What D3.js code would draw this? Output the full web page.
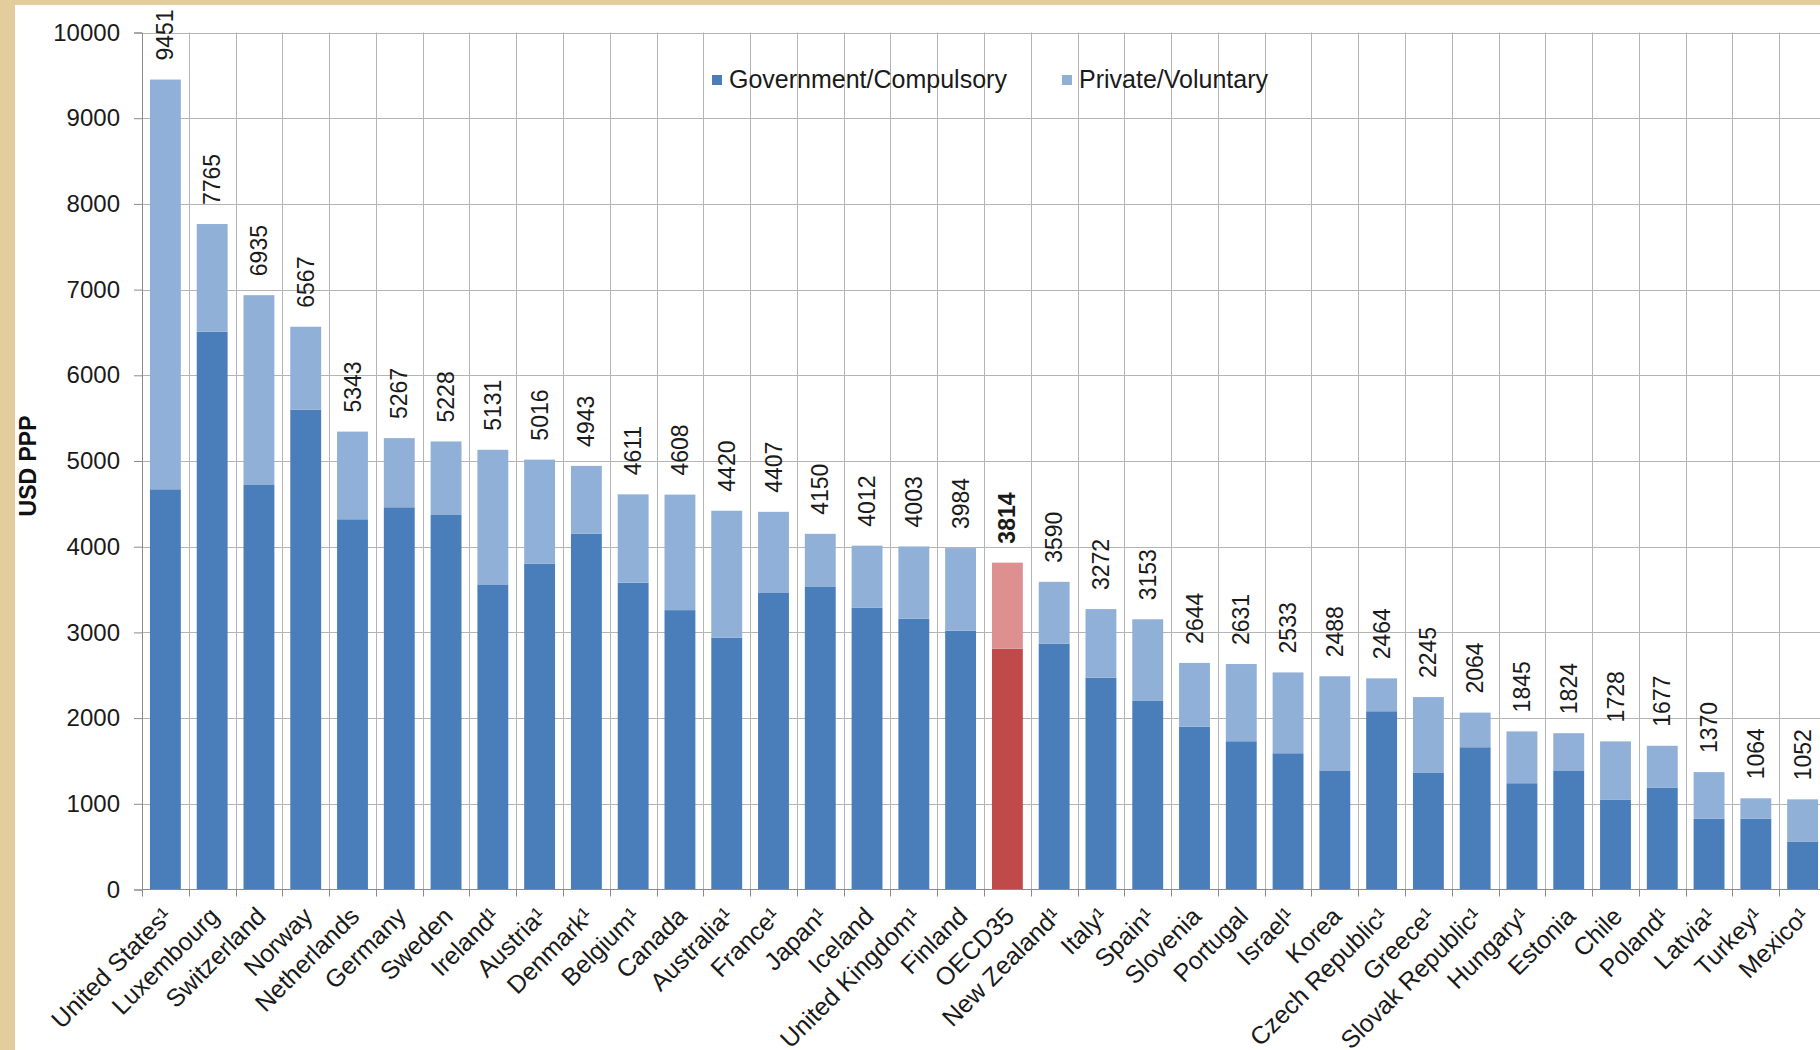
<!DOCTYPE html>
<html lang="en">
  <head>
    <meta charset="UTF-8" />
    <title>Health expenditure per capita</title>
    <script src="https://d3js.org/d3.v7.min.js"></script>
    <style>
      body {
        margin: 0;
        background-color: #e4cd9c;
        font-family: "Liberation Sans", Arial, sans-serif;
      }
      svg {
        display: block;
      }
      .tick text {
        font-size: 24px;
        fill: #1a1a1a;
      }
      .value {
        font-size: 23px;
        fill: #1a1a1a;
      }
      .cat {
        font-size: 25px;
        fill: #1a1a1a;
      }
      .legend text {
        font-size: 25px;
        fill: #1a1a1a;
      }
    </style>
  </head>
  <body>
    <svg id="chart" width="1820" height="1050"></svg>

    <script>
      const countries = [
        "United States¹", "Luxembourg", "Switzerland", "Norway", "Netherlands",
        "Germany", "Sweden", "Ireland¹", "Austria¹", "Denmark¹", "Belgium¹",
        "Canada", "Australia¹", "France¹", "Japan¹", "Iceland", "United Kingdom¹",
        "Finland", "OECD35", "New Zealand¹", "Italy¹", "Spain¹", "Slovenia",
        "Portugal", "Israel¹", "Korea", "Czech Republic¹", "Greece¹",
        "Slovak Republic¹", "Hungary¹", "Estonia", "Chile", "Poland¹", "Latvia¹",
        "Turkey¹", "Mexico¹"
      ];
      const totals = [
        9451, 7765, 6935, 6567, 5343, 5267, 5228, 5131, 5016, 4943, 4611, 4608,
        4420, 4407, 4150, 4012, 4003, 3984, 3814, 3590, 3272, 3153, 2644, 2631,
        2533, 2488, 2464, 2245, 2064, 1845, 1824, 1728, 1677, 1370, 1064, 1052
      ];
      const government = [
        4670, 6510, 4720, 5600, 4320, 4460, 4370, 3560, 3800, 4150, 3580, 3260,
        2940, 3460, 3530, 3290, 3160, 3020, 2810, 2870, 2470, 2200, 1900, 1730,
        1590, 1390, 2080, 1360, 1660, 1240, 1390, 1050, 1190, 825, 825, 555
      ];
      const privateVol = [
        4781, 1255, 2215, 967, 1023, 807, 858, 1571, 1216, 793, 1031, 1348,
        1480, 947, 620, 722, 843, 964, 1004, 720, 802, 953, 744, 901,
        943, 1098, 384, 885, 404, 605, 434, 678, 487, 545, 239, 497
      ];
      const yTicks = [0, 1000, 2000, 3000, 4000, 5000, 6000, 7000, 8000, 9000, 10000];
      const highlight = "OECD35";

      const colors = {
        government: "#4a7ebb",
        private: "#91b0d7",
        govHi: "#c0494a",
        privHi: "#de9090",
      };

      const rows = countries.map((c, i) => ({
        country: c,
        government: government[i],
        private: privateVol[i],
        total: totals[i],
      }));

      const svg = d3.select("#chart");

      // white chart area over the parchment background
      svg.append("rect")
        .attr("x", 15).attr("y", 5)
        .attr("width", 1805).attr("height", 1045)
        .attr("fill", "#ffffff");

      const x = d3.scaleBand()
        .domain(countries)
        .range([142, 1826])
        .paddingInner(0.34)
        .paddingOuter(0.17);

      const y = d3.scaleLinear().domain([0, 10000]).range([889.5, 32.5]);

      const step = x.step();
      const left = x.range()[0];

      // grid
      const grid = svg.append("g");
      grid.selectAll(".hg")
        .data(yTicks.slice(1))
        .enter().append("line")
        .attr("x1", left).attr("x2", 1820)
        .attr("y1", (d) => Math.round(y(d)) + 0.5)
        .attr("y2", (d) => Math.round(y(d)) + 0.5)
        .attr("stroke", "#b4b4b4");
      grid.selectAll(".vg")
        .data(d3.range(1, countries.length + 1))
        .enter().append("line")
        .attr("x1", (i) => Math.round(left + i * step) + 0.5)
        .attr("x2", (i) => Math.round(left + i * step) + 0.5)
        .attr("y1", y(10000)).attr("y2", y(0))
        .attr("stroke", "#b4b4b4");

      // stacked bars
      const stack = d3.stack().keys(["government", "private"]);
      const series = stack(rows);

      svg.append("g")
        .selectAll("g")
        .data(series)
        .enter().append("g")
        .each(function (s) {
          d3.select(this)
            .selectAll("rect")
            .data(s)
            .enter().append("rect")
            .attr("x", (d) => x(d.data.country))
            .attr("width", x.bandwidth())
            .attr("y", (d) => y(d[1]))
            .attr("height", (d) => y(d[0]) - y(d[1]))
            .attr("fill", (d) => {
              const hi = d.data.country === highlight;
              if (s.key === "government") return hi ? colors.govHi : colors.government;
              return hi ? colors.privHi : colors.private;
            });
        });

      // value labels, rotated
      svg.append("g")
        .selectAll("text")
        .data(rows)
        .enter().append("text")
        .attr("class", "value")
        .attr("transform", (d) =>
          `translate(${x(d.country) + x.bandwidth() / 2},${y(d.total) - 19}) rotate(-90)`)
        .attr("dy", "0.35em")
        .style("font-weight", (d) => (d.country === highlight ? "bold" : null))
        .text((d) => d.total);

      // y axis
      const yAxis = svg.append("g")
        .attr("transform", `translate(${left},0)`)
        .call(d3.axisLeft(y).tickValues(yTicks).tickSize(8).tickPadding(14)
          .tickFormat(d3.format("d")));
      yAxis.select(".domain").attr("stroke", "#8a8a8a");
      yAxis.selectAll(".tick line").attr("stroke", "#8a8a8a");

      // x axis line and boundary ticks
      svg.append("line")
        .attr("x1", left).attr("x2", 1820)
        .attr("y1", y(0)).attr("y2", y(0))
        .attr("stroke", "#8a8a8a");
      svg.append("g")
        .selectAll("line")
        .data(d3.range(0, countries.length + 1))
        .enter().append("line")
        .attr("x1", (i) => Math.round(left + i * step) + 0.5)
        .attr("x2", (i) => Math.round(left + i * step) + 0.5)
        .attr("y1", y(0)).attr("y2", y(0) + 7)
        .attr("stroke", "#8a8a8a");

      // category labels
      svg.append("g")
        .selectAll("text")
        .data(countries)
        .enter().append("text")
        .attr("class", "cat")
        .attr("text-anchor", "end")
        .attr("transform", (d) =>
          `translate(${x(d) + x.bandwidth() / 2 - 4},${y(0) + 16}) rotate(-45)`)
        .attr("dy", "0.7em")
        .text((d) => d);

      // y title
      svg.append("text")
        .attr("transform", "translate(28,466) rotate(-90)")
        .attr("text-anchor", "middle")
        .attr("dy", "0.35em")
        .style("font-size", "23px")
        .style("font-weight", "bold")
        .style("fill", "#111")
        .text("USD PPP");

      // legend
      const legend = svg.append("g").attr("class", "legend");
      const legendItems = [
        { label: "Government/Compulsory", color: colors.government, x: 712 },
        { label: "Private/Voluntary", color: colors.private, x: 1062 },
      ];
      legendItems.forEach((d) => {
        legend.append("rect")
          .attr("x", d.x).attr("y", 75)
          .attr("width", 10).attr("height", 10)
          .attr("fill", d.color);
        legend.append("text")
          .attr("x", d.x + 17).attr("y", 88)
          .text(d.label);
      });
    </script>
  </body>
</html>
